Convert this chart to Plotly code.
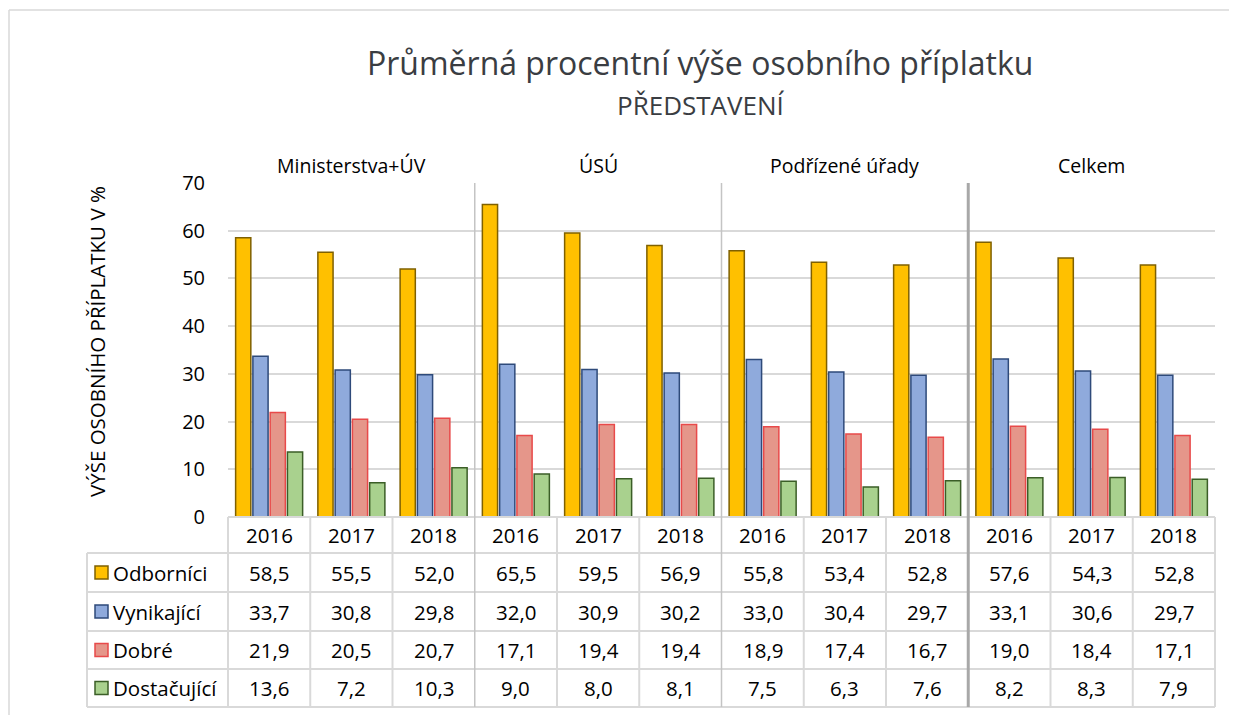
import plotly.graph_objects as go

# ---------------- data ----------------
groups = ["Ministerstva+ÚV", "ÚSÚ", "Podřízené úřady", "Celkem"]
years = ["2016", "2017", "2018"]
series_names = ["Odborníci", "Vynikající", "Dobré", "Dostačující"]
odbornici = [58.5, 55.5, 52.0, 65.5, 59.5, 56.9, 55.8, 53.4, 52.8, 57.6, 54.3, 52.8]
vynikajici = [33.7, 30.8, 29.8, 32.0, 30.9, 30.2, 33.0, 30.4, 29.7, 33.1, 30.6, 29.7]
dobre = [21.9, 20.5, 20.7, 17.1, 19.4, 19.4, 18.9, 17.4, 16.7, 19.0, 18.4, 17.1]
dostacujici = [13.6, 7.2, 10.3, 9.0, 8.0, 8.1, 7.5, 6.3, 7.6, 8.2, 8.3, 7.9]
y_ticks = [0, 10, 20, 30, 40, 50, 60, 70]

title = "Průměrná procentní výše osobního příplatku"
subtitle = "PŘEDSTAVENÍ"
y_title = "VÝŠE OSOBNÍHO PŘÍPLATKU V %"

# ---------------- style ----------------
W, H = 1237, 715
OFF = 8  # page body margin: figure is drawn 8 px right/down in the window
FONT = "Open Sans"
fills = ["#FFC000", "#8FAADC", "#E5968A", "#A9D18E"]
lines = ["#7F6000", "#2E4A7A", "#E84A4A", "#3B5E27"]
values = [odbornici, vynikajici, dobre, dostacujici]


def px(x):
    return min(max((x - OFF) / W, 0.0), 1.0)


def py(y):
    return min(max(1 - (y - OFF) / H, 0.0), 1.0)


PLOT_L, PLOT_R, PLOT_T, PLOT_B = 228, 1215, 183, 517
n_cols = len(groups) * len(years)
xs = list(range(n_cols))
XMIN, XMAX = -0.5, n_cols - 0.5


def xcol(v):
    # map axis value to paper coords, same mapping as the x axis
    return px(PLOT_L) + (v - XMIN) / (XMAX - XMIN) * (px(PLOT_R) - px(PLOT_L))


fig = go.Figure()
for name, vals, fc, lc in zip(series_names, values, fills, lines):
    fig.add_trace(go.Bar(
        x=xs, y=vals, name=name,
        marker=dict(color=fc, line=dict(color=lc, width=1.5)),
        showlegend=False,
    ))

shapes = []
annotations = []
GRID = "#d9d9d9"


def label(x, y, text, size, color="#000", xref="paper", xanchor="center", angle=0):
    annotations.append(dict(x=x, xref=xref, y=y, yref="paper", text=text,
                            showarrow=False, xanchor=xanchor, yanchor="middle",
                            textangle=angle,
                            font=dict(family=FONT, size=size, color=color)))


# outer chart border (top and left edges visible, kept inside the paper)
shapes.append(dict(type="line", xref="paper", yref="paper",
                   x0=px(9), x1=1, y0=py(10), y1=py(10),
                   line=dict(color="#d9d9d9", width=1.5), layer="below"))
shapes.append(dict(type="line", xref="paper", yref="paper",
                   x0=px(9), x1=px(9), y0=py(10), y1=0,
                   line=dict(color="#d9d9d9", width=1.5), layer="below"))

# table geometry
row_edges = [517, 553, 592, 631, 669, 707]
label_left = 87

# horizontal table lines
shapes.append(dict(type="line", xref="paper", yref="paper",
                   x0=px(PLOT_L), x1=px(PLOT_R), y0=py(row_edges[0]), y1=py(row_edges[0]),
                   line=dict(color=GRID, width=2)))
for yy in row_edges[1:]:
    shapes.append(dict(type="line", xref="paper", yref="paper",
                       x0=px(label_left), x1=px(PLOT_R), y0=py(yy), y1=py(yy),
                       line=dict(color=GRID, width=2)))
# vertical table lines
shapes.append(dict(type="line", xref="paper", yref="paper",
                   x0=px(label_left), x1=px(label_left), y0=py(row_edges[1]), y1=py(row_edges[-1]),
                   line=dict(color=GRID, width=2)))
for i in range(n_cols + 1):
    xv = xcol(i - 0.5)
    if i in (3, 6):
        shapes.append(dict(type="line", xref="paper", yref="paper",
                           x0=xv, x1=xv, y0=py(PLOT_T), y1=py(row_edges[-1]),
                           line=dict(color="#c4c4c4", width=1.5)))
    elif i == 9:
        shapes.append(dict(type="line", xref="paper", yref="paper",
                           x0=xv, x1=xv, y0=py(PLOT_T), y1=py(row_edges[-1]),
                           line=dict(color="#a8a8a8", width=3)))
    else:
        shapes.append(dict(type="line", xref="paper", yref="paper",
                           x0=xv, x1=xv, y0=py(row_edges[0]), y1=py(row_edges[-1]),
                           line=dict(color=GRID, width=2)))


def mid(a, b):
    return (a + b) / 2


TFS = 20.5
# year row
for i in xs:
    label(i, py(mid(row_edges[0], row_edges[1])), years[i % 3], TFS, xref="x")
# value rows + legend cells
for r, (name, vals, fc, lc) in enumerate(zip(series_names, values, fills, lines)):
    yc = mid(row_edges[r + 1], row_edges[r + 2])
    for i in xs:
        label(i, py(yc), f"{vals[i]:.1f}".replace(".", ","), TFS, xref="x")
    shapes.append(dict(type="rect", xref="paper", yref="paper",
                       x0=px(95), x1=px(108), y0=py(yc + 6.5), y1=py(yc - 6.5),
                       fillcolor=fc, line=dict(color=lc, width=1.5)))
    label(px(111), py(yc), name, TFS, xanchor="left")

# group labels
for g, name in enumerate(groups):
    label(g * 3 + 1, py(165), name, 19.5, xref="x")

# titles
label(px(700), py(63), title, 32, color="#3a3d42")
label(px(701), py(105), subtitle, 26, color="#3a3d42")
label(px(97), py(342), y_title, 20.5, angle=-90)

fig.update_layout(
    width=W, height=H,
    margin=dict(l=0, r=0, t=0, b=0, pad=0, autoexpand=False),
    paper_bgcolor="white", plot_bgcolor="white",
    barmode="group", bargap=0.16, bargroupgap=0.12,
    xaxis=dict(domain=[px(PLOT_L), px(PLOT_R)], range=[XMIN, XMAX], automargin=False,
               showticklabels=False, showgrid=False, zeroline=False, showline=False,
               fixedrange=True),
    yaxis=dict(domain=[py(PLOT_B), py(PLOT_T)], range=[0, 70], automargin=False,
               tickvals=y_ticks, showgrid=True, gridcolor=GRID, gridwidth=1.5,
               zeroline=False, showline=False, ticks="",
               ticklabelstandoff=22,
               tickfont=dict(family=FONT, size=20, color="#000"), fixedrange=True),
    shapes=shapes, annotations=annotations,
    showlegend=False,
)

fig.write_html("out.html")
